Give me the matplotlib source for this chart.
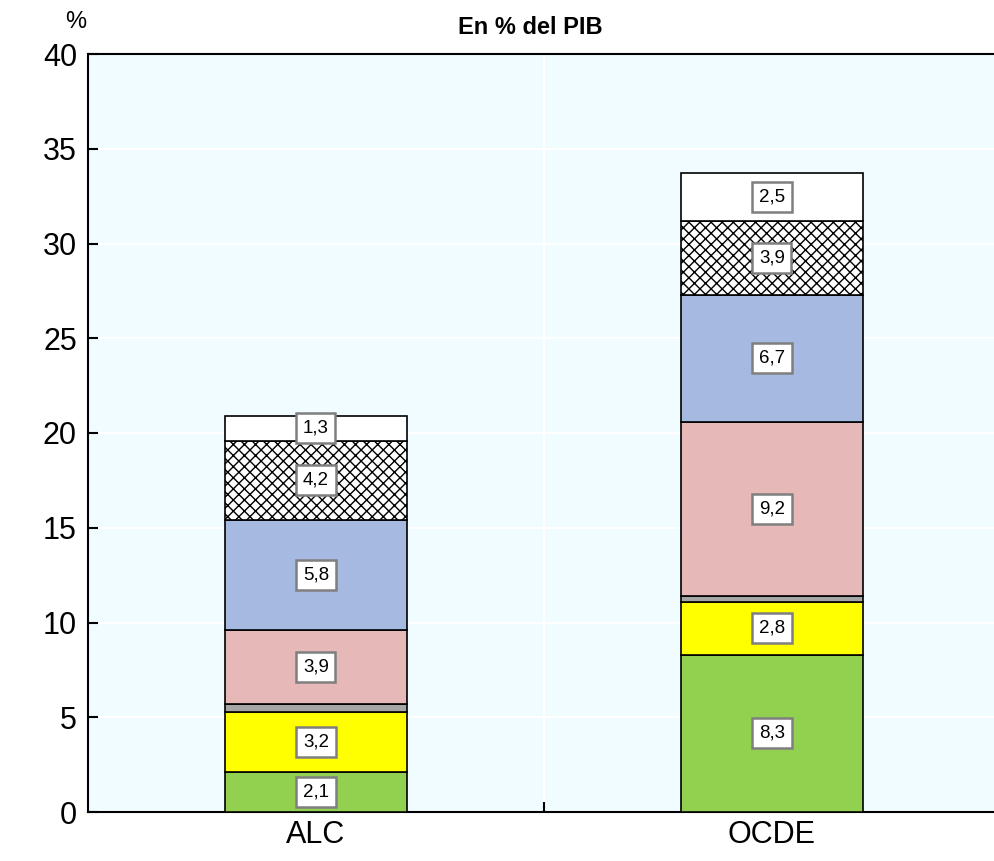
import matplotlib
matplotlib.use("Agg")
import matplotlib.pyplot as plt
import numpy as np

plt.rcParams['font.family'] = ['Liberation Sans Narrow', 'Liberation Sans', 'DejaVu Sans']
plt.rcParams['hatch.linewidth'] = 1.0

categories = ["ALC", "OCDE"]
# stacked components, bottom to top
green = [2.1, 8.3]
yellow = [3.2, 2.8]
gray = [0.4, 0.3]
pink = [3.9, 9.2]
blue = [5.8, 6.7]
hatched = [4.2, 3.9]
white = [1.3, 2.5]
label_green = ["2,1", "8,3"]
label_yellow = ["3,2", "2,8"]
label_pink = ["3,9", "9,2"]
label_blue = ["5,8", "6,7"]
label_hatched = ["4,2", "3,9"]
label_white = ["1,3", "2,5"]
yticks = [0, 5, 10, 15, 20, 25, 30, 35, 40]

series = [
    (green, "#92D050", None, label_green),
    (yellow, "#FFFF00", None, label_yellow),
    (gray, "#A6A6A6", None, None),
    (pink, "#E6B9B8", None, label_pink),
    (blue, "#A6B9E0", None, label_blue),
    (hatched, "#FFFFFF", "xxx", label_hatched),
    (white, "#FFFFFF", None, label_white),
]

fig = plt.figure(figsize=(9.95, 8.61), dpi=100)
ax = fig.add_axes([88/995, (861-812)/861, (1000-88)/995, (812-54)/861])
ax.set_facecolor("#F0FCFF")

x = np.arange(len(categories))
bottom = np.zeros(len(categories))
for vals, col, hatch, labels in series:
    vals = np.array(vals)
    ax.bar(x, vals, 0.4, bottom=bottom, color=col, edgecolor="black",
           linewidth=1.2, hatch=hatch, zorder=3)
    if labels is not None:
        for xi, b, v, lab in zip(x, bottom, vals, labels):
            ax.text(xi, b + v/2, lab, ha="center", va="center", fontsize=13.5,
                    zorder=5,
                    bbox=dict(boxstyle="square,pad=0.35", fc="white", ec="#7F7F7F", lw=1.8))
    bottom = bottom + vals

ax.set_xlim(-0.5, 1.5)
ax.set_ylim(0, 40)
ax.set_yticks(yticks)
ax.set_yticklabels([str(t) for t in yticks], fontsize=22)
ax.set_xticks(x)
ax.set_xticklabels(categories, fontsize=22)
ax.tick_params(axis="x", length=0, pad=6)
ax.set_xticks([0.5], minor=True)
ax.tick_params(axis="x", which="minor", direction="in", length=7, width=1.5)
ax.tick_params(axis="y", direction="in", length=7, width=1.5, pad=8)

for y in yticks[1:-1]:
    ax.axhline(y, color="white", lw=1.5, zorder=1)
ax.axvline(0.5, color="white", lw=1.5, zorder=1)

for s in ["left", "bottom", "top"]:
    ax.spines[s].set_linewidth(1.5)
ax.spines["right"].set_visible(False)

fig.text(76/995, 1 - 22/861, "%", fontsize=17, ha="center", va="center")
fig.text(530/995, 1 - 28/861, "En % del PIB", fontsize=17, fontweight="bold",
         ha="center", va="center")

fig.savefig("out.png", dpi=100)
